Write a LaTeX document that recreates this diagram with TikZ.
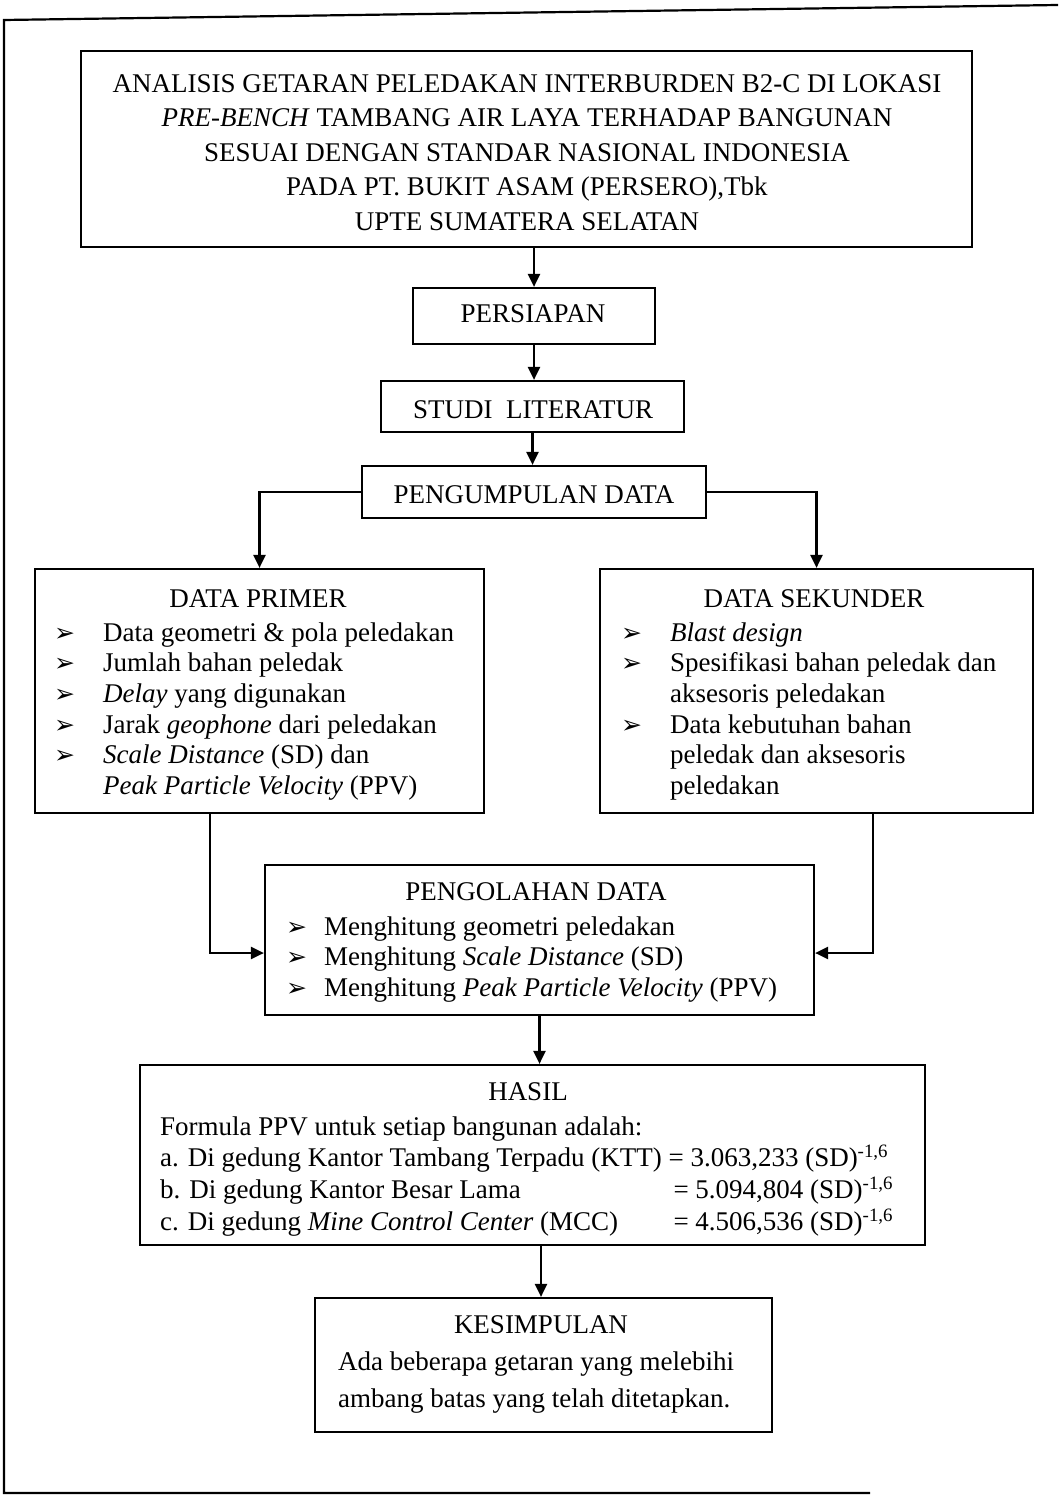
\documentclass[tikz,border=0pt]{standalone}
\usepackage{fontspec}
\setmainfont{Liberation Serif}
\newfontfamily\dejavu{DejaVu Sans}
\usetikzlibrary{arrows.meta}
\newcommand\bul{{\dejavu\fontsize{25}{25}\selectfont ➢}}
\tikzset{
  box/.style={draw, line width=2.2pt, rectangle, inner sep=0pt},
  conn/.style={line width=2.2pt},
  arr/.style={conn, -{Triangle[length=13pt,width=12pt]}},
  txt/.style={inner sep=0pt, font=\fontsize{27}{30.6}\selectfont},
}
\begin{document}
\begin{tikzpicture}[x=1pt,y=-1pt]
\useasboundingbox (0,0) rectangle (1058,1495);
% outer frame
\draw[conn] (1058,5) -- (4,20) -- (4,1493) -- (870,1493);
% boxes
\node[box, minimum width=891pt, minimum height=196pt] (title) at (526.5,149) {};
\node[box, minimum width=242pt, minimum height=56pt] (persiapan) at (534,316) {};
\node[box, minimum width=303pt, minimum height=51pt] (studi) at (532.5,406.5) {};
\node[box, minimum width=344pt, minimum height=52pt] (pengumpulan) at (534,492) {};
\node[box, minimum width=449pt, minimum height=244pt] (primer) at (259.5,691) {};
\node[box, minimum width=433pt, minimum height=244pt] (sekunder) at (816.5,691) {};
\node[box, minimum width=549pt, minimum height=150pt] (pengolahan) at (539.5,940) {};
\node[box, minimum width=785pt, minimum height=180pt] (hasil) at (532.5,1155) {};
\node[box, minimum width=457pt, minimum height=134pt] (kesimpulan) at (543.5,1365) {};
% texts
\node[txt, anchor=north, font=\fontsize{27}{34.5}\selectfont] (titletxt) at (527,67.9) {\begin{tabular}{@{}c@{}}
ANALISIS GETARAN PELEDAKAN INTERBURDEN B2-C DI LOKASI\\
\textit{PRE-BENCH} TAMBANG AIR LAYA TERHADAP BANGUNAN\\
SESUAI DENGAN STANDAR NASIONAL INDONESIA\\
PADA PT. BUKIT ASAM (PERSERO),Tbk\\
UPTE SUMATERA SELATAN
\end{tabular}};
\node[txt, anchor=base] (persiapantxt) at (533,323) {PERSIAPAN};
\node[txt, anchor=base] (studitxt) at (533,418) {STUDI\ \ LITERATUR};
\node[txt, anchor=base] (pengumpulantxt) at (534,503) {PENGUMPULAN DATA};
% data primer
\node[txt, anchor=base] (primerhead) at (258,607) {DATA PRIMER};
\node[txt, anchor=north west] (primerlist) at (54,619.6) {\begin{tabular}{@{}p{49pt}@{}l@{}}
\bul & Data geometri \& pola peledakan\\
\bul & Jumlah bahan peledak\\
\bul & \textit{Delay} yang digunakan\\
\bul & Jarak \textit{geophone} dari peledakan\\
\bul & \textit{Scale Distance} (SD) dan\\
 & \textit{Peak Particle Velocity} (PPV)
\end{tabular}};
% data sekunder
\node[txt, anchor=base] (sekunderhead) at (814,607) {DATA SEKUNDER};
\node[txt, anchor=north west] (sekunderlist) at (621,619.6) {\begin{tabular}{@{}p{49pt}@{}l@{}}
\bul & \textit{Blast design}\\
\bul & Spesifikasi bahan peledak dan\\
 & aksesoris peledakan\\
\bul & Data kebutuhan bahan\\
 & peledak dan aksesoris\\
 & peledakan
\end{tabular}};
% pengolahan
\node[txt, anchor=base] (pengolahanhead) at (536,900) {PENGOLAHAN DATA};
\node[txt, anchor=north west] (pengolahanlist) at (286,913.6) {\begin{tabular}{@{}p{38pt}@{}l@{}}
\bul & Menghitung geometri peledakan\\
\bul & Menghitung \textit{Scale Distance} (SD)\\
\bul & Menghitung \textit{Peak Particle Velocity} (PPV)
\end{tabular}};
% hasil
\node[txt, anchor=base] (hasilhead) at (528,1100) {HASIL};
\node[txt, anchor=north west, font=\fontsize{27}{31.7}\selectfont] (hasillist) at (160,1112.8) {\begin{tabular}{@{}l@{}l@{}}
\multicolumn{2}{@{}l@{}}{Formula PPV untuk setiap bangunan adalah:}\\
a. Di gedung Kantor Tambang Terpadu (KTT) & \ = 3.063,233 (SD)\textsuperscript{-1,6}\\
b. Di gedung Kantor Besar Lama & \hspace*{5pt}\ = 5.094,804 (SD)\textsuperscript{-1,6}\\
c. Di gedung \textit{Mine Control Center} (MCC) & \hspace*{5pt}\ = 4.506,536 (SD)\textsuperscript{-1,6}
\end{tabular}};
% kesimpulan
\node[txt, anchor=base] (kesimpulanhead) at (541,1333) {KESIMPULAN};
\node[txt, anchor=north west, font=\fontsize{27}{37}\selectfont] (kesimpulantxt) at (338,1344.1) {\begin{tabular}{@{}l@{}}
Ada beberapa getaran yang melebihi\\
ambang batas yang telah ditetapkan.
\end{tabular}};
% connectors
\draw[arr] (persiapan.north |- title.south) -- (persiapan.north);
\draw[arr] (persiapan.south) -- (persiapan.south |- studi.north);
\draw[arr] (studi.south) -- (studi.south |- pengumpulan.north);
\draw[arr] (pengumpulan.west) -| (primer.north);
\draw[arr] (pengumpulan.east) -| (sekunder.north);
\draw[arr] ([xshift=-49.5pt]primer.south) |- ([yshift=-13pt]pengolahan.west);
\draw[arr] ([xshift=56.5pt]sekunder.south) |- ([yshift=-13pt]pengolahan.east);
\draw[arr] (pengolahan.south) -- (pengolahan.south |- hasil.north);
\draw[arr] ([xshift=-2.5pt]kesimpulan.north |- hasil.south) -- ([xshift=-2.5pt]kesimpulan.north);
\end{tikzpicture}
\end{document}
